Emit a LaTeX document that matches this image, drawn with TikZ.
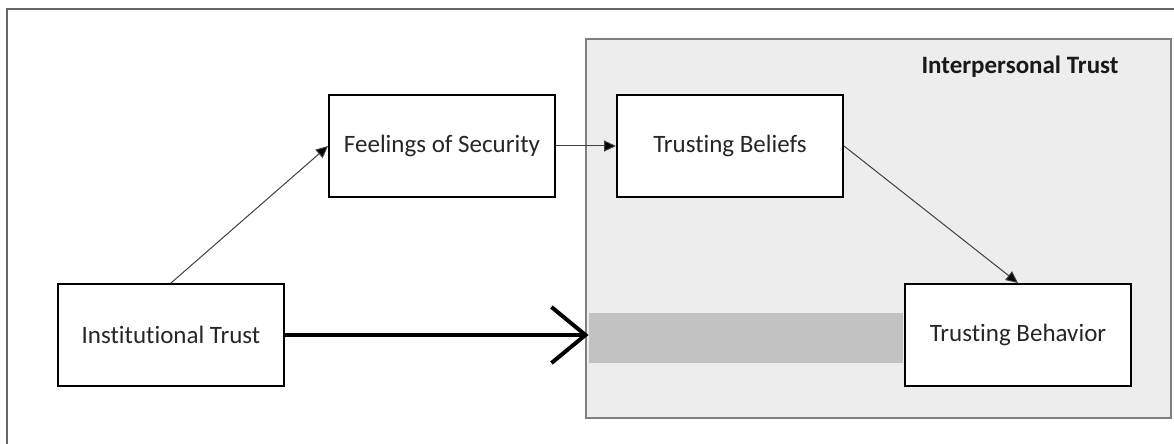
\documentclass[tikz,border=0pt]{standalone}
\usepackage{fontspec}
\setmainfont{Carlito}[RawFeature=-liga]
\usetikzlibrary{arrows.meta}

\tikzset{
  factor/.style={draw, line width=1pt, fill=white, text=black!85,
    minimum width=113pt, minimum height=51pt, inner sep=0pt,
    font=\fontsize{12.5}{15}\selectfont},
  link/.style={line width=0.5pt, draw=black!75,
    -{Triangle[length=6pt,width=5.5pt,fill=black]}},
}

\begin{document}
\begin{tikzpicture}[x=0.5pt,y=-0.5pt]
    \useasboundingbox (0,0) rectangle (1174,444);
    \draw [line width=1pt, black!60] (7,444) -- (7,9) -- (1174,9);

    % interpersonal trust area
    \node (group) [draw=black!50, fill=black!7, line width=1pt, inner sep=0pt,
      minimum width=292.5pt, minimum height=189.5pt] at (878.5,228.5) {};
    \node (grouptitle) [font=\fontsize{12.5}{15}\selectfont\bfseries, text=black!90]
      at (1020,67) {Interpersonal Trust};
    \node (bar) [fill=black!24, inner sep=0pt, minimum width=157pt,
      minimum height=25pt] at (746,338) {};

    \foreach \name/\x/\y/\label in {inst/171/335/Institutional Trust,
        feel/442/146/Feelings of Security, belief/730/146/Trusting Beliefs,
        behav/1018/335/Trusting Behavior}
      \node (\name) [factor] at (\x,\y) {\label};

    \draw [link] (inst.north) -- (feel.west);
    \draw [link] (feel) -- (belief);
    \draw [link] (belief.east) -- (behav.north);
    \draw [line width=2pt, -{Straight Barb[length=17pt,width=28pt]}]
      (inst) -- (inst.east -| bar.west);
\end{tikzpicture}
\end{document}
